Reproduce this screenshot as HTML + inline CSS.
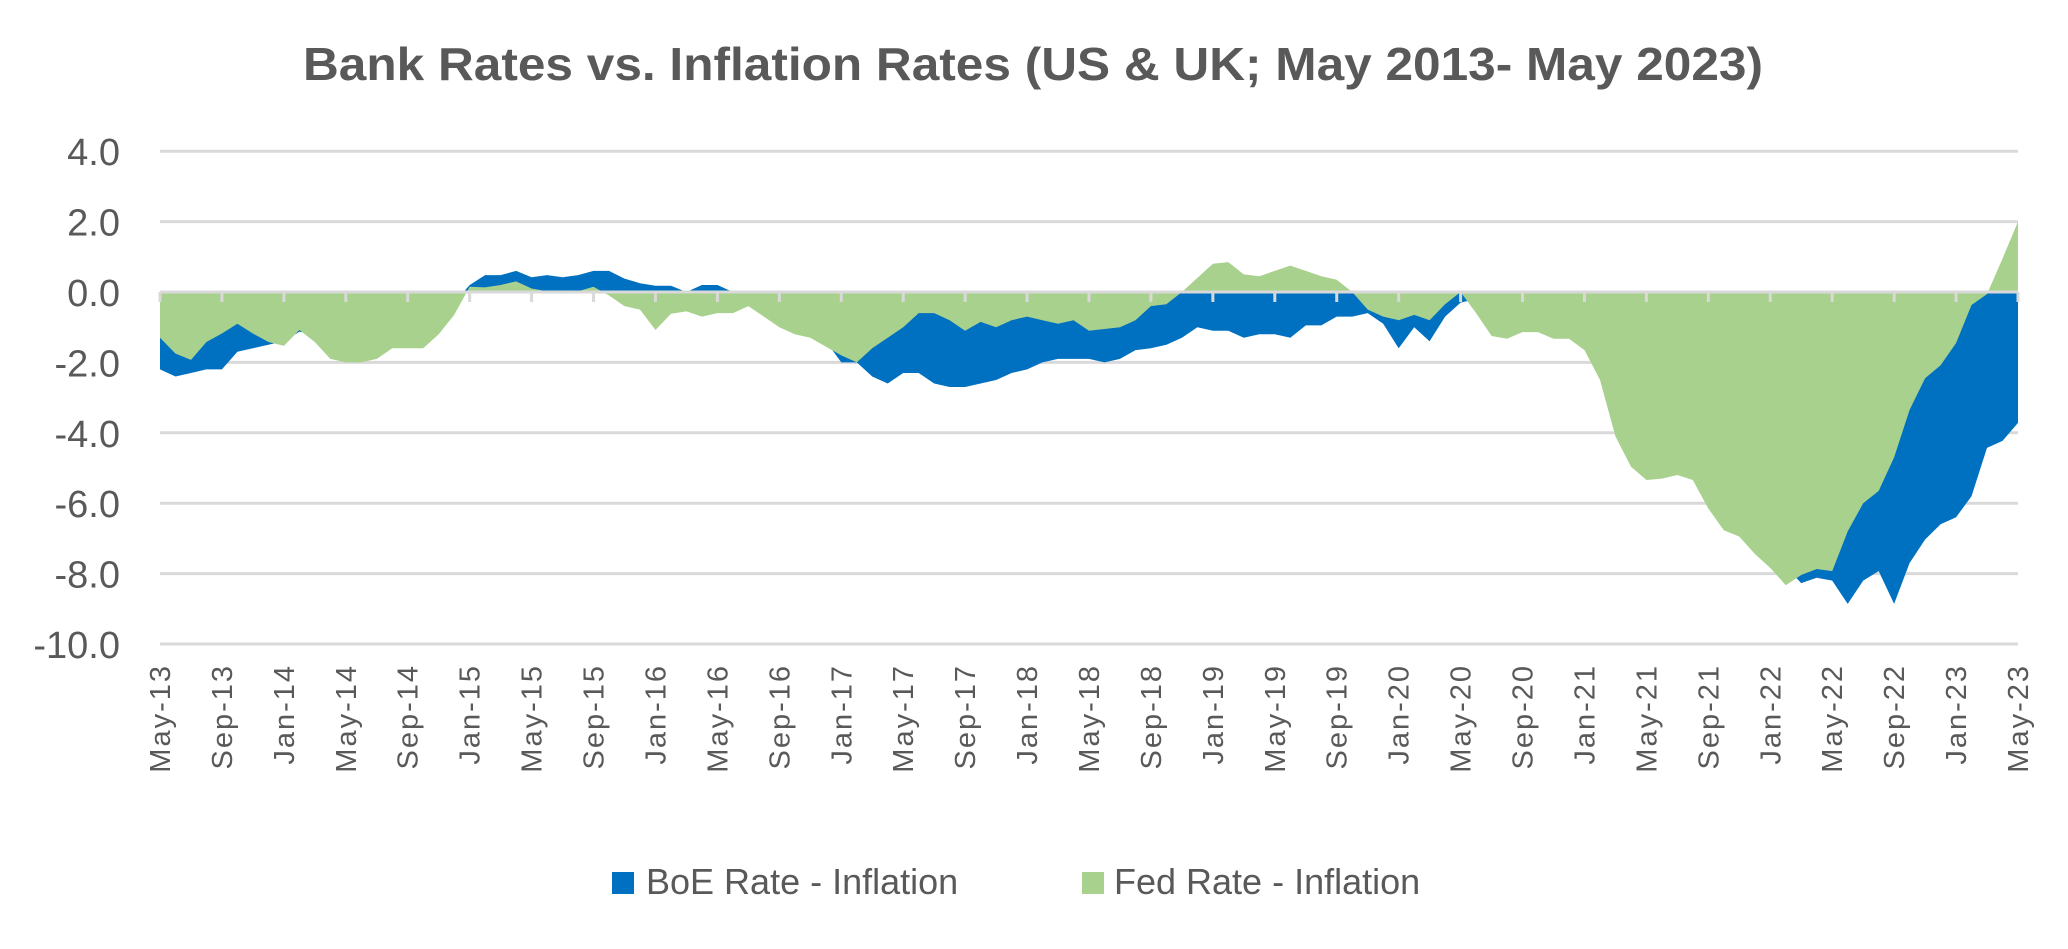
<!DOCTYPE html>
<html><head><meta charset="utf-8"><style>
html,body{margin:0;padding:0;background:#fff;}
svg{display:block;}
</style></head><body>
<svg id="s" width="2068" height="949" xmlns="http://www.w3.org/2000/svg">
<rect width="2068" height="949" fill="#fff"/>
<text x="1033" y="80" text-anchor="middle" font-family="Liberation Sans, sans-serif" font-weight="bold" font-size="46" fill="#595959" textLength="1460" lengthAdjust="spacingAndGlyphs">Bank Rates vs. Inflation Rates (US &amp; UK; May 2013- May 2023)</text>
<g id="grid"></g>
<g id="areas"></g>
<g id="axis"></g>
<g id="labels" font-family="Liberation Sans Narrow, Liberation Sans, sans-serif" fill="#595959"></g>
<rect x="612" y="872" width="22" height="22" fill="#0070C0"/>
<text x="646" y="894" font-family="Liberation Sans Narrow, Liberation Sans, sans-serif" font-size="36" fill="#595959">BoE Rate - Inflation</text>
<rect x="1082" y="872" width="22" height="22" fill="#A9D18E"/>
<text x="1114" y="894" font-family="Liberation Sans Narrow, Liberation Sans, sans-serif" font-size="36" fill="#595959">Fed Rate - Inflation</text>
</svg>
<script>
var G=[-1.3,-1.75,-1.93,-1.42,-1.18,-0.9,-1.18,-1.42,-1.53,-1.08,-1.42,-1.9,-2.0,-2.0,-1.9,-1.6,-1.6,-1.6,-1.2,-0.65,
0.15,0.13,0.2,0.3,0.1,0.02,-0.05,0.02,0.15,-0.1,-0.4,-0.5,-1.08,-0.62,-0.55,-0.7,-0.6,-0.6,-0.4,-0.7,
-1.0,-1.2,-1.3,-1.55,-1.8,-2.0,-1.6,-1.3,-1.0,-0.6,-0.6,-0.8,-1.1,-0.85,-1.0,-0.8,-0.7,-0.8,-0.9,-0.8,
-1.1,-1.05,-1.0,-0.8,-0.4,-0.35,0.0,0.4,0.8,0.85,0.5,0.45,0.6,0.75,0.6,0.45,0.35,0.0,-0.5,-0.7,
-0.8,-0.65,-0.8,-0.35,0.0,-0.6,-1.25,-1.33,-1.14,-1.14,-1.33,-1.33,-1.65,-2.5,-4.1,-4.96,-5.34,-5.3,-5.2,-5.34,
-6.15,-6.77,-6.95,-7.44,-7.84,-8.33,-8.04,-7.87,-7.93,-6.8,-6.0,-5.65,-4.7,-3.35,-2.45,-2.08,-1.45,-0.37,-0.06,0.95,2.0];
var B=[-2.2,-2.4,-2.3,-2.2,-2.2,-1.7,-1.6,-1.5,-1.4,-1.13,-1.2,-1.5,-1.6,-1.6,-1.5,-1.3,-1.2,-1.0,-0.8,-0.3,
0.2,0.48,0.48,0.6,0.42,0.48,0.42,0.48,0.6,0.6,0.38,0.25,0.18,0.18,0.0,0.2,0.2,0.0,-0.3,-0.5,
-0.8,-1.0,-1.1,-1.4,-2.0,-2.0,-2.4,-2.6,-2.3,-2.3,-2.6,-2.7,-2.7,-2.6,-2.5,-2.3,-2.2,-2.0,-1.9,-1.9,
-1.9,-2.0,-1.9,-1.65,-1.6,-1.5,-1.3,-1.0,-1.1,-1.1,-1.3,-1.2,-1.2,-1.3,-0.95,-0.95,-0.7,-0.7,-0.6,-0.9,
-1.6,-1.0,-1.4,-0.7,-0.3,-0.2,-0.5,-0.6,-0.6,-0.6,-0.6,-0.7,-0.8,-1.2,-1.8,-2.5,-3.0,-3.5,-4.0,-4.5,
-5.0,-5.5,-6.0,-6.6,-7.2,-7.8,-8.27,-8.12,-8.2,-8.86,-8.2,-7.93,-8.86,-7.7,-7.03,-6.6,-6.4,-5.8,-4.43,-4.23,-3.72];
var NS="http://www.w3.org/2000/svg";
function X(m){return 160+m*1858/120;}
function Y(v){return 292-35.2*v;}
function el(t,a,p){var e=document.createElementNS(NS,t);for(var k in a)e.setAttribute(k,a[k]);document.getElementById(p).appendChild(e);return e;}
var lab=["4.0","2.0","0.0","-2.0","-4.0","-6.0","-8.0","-10.0"];
for(var i=0;i<8;i++){var v=4-2*i;
 el("line",{x1:160,x2:2018,y1:Y(v),y2:Y(v),stroke:"#d9d9d9","stroke-width":3},"grid");
 var t=el("text",{x:120,y:Y(v)+14,"text-anchor":"end","font-size":38},"labels");t.textContent=lab[i];}
function area(D,c){var d="M"+X(0)+","+Y(0);for(var m=0;m<D.length;m++)d+=" L"+X(m).toFixed(1)+","+Y(D[m]).toFixed(1);d+=" L"+X(120)+","+Y(0)+"Z";el("path",{d:d,fill:c},"areas");}
area(B,"#0070C0");area(G,"#A9D18E");
el("line",{x1:160,x2:2018,y1:Y(0),y2:Y(0),stroke:"#d9d9d9","stroke-width":3},"axis");
var mn=["May","Sep","Jan"];
for(var k=0;k<=30;k++){var m=k*4;var x=X(m);
 el("line",{x1:x,x2:x,y1:Y(0),y2:Y(0)+10,stroke:"#d9d9d9","stroke-width":3},"axis");
 var yr=13+Math.floor((4+m)/12);
 var t=el("text",{transform:"translate("+(x+10)+",664) rotate(-90)","text-anchor":"end","font-size":29,"letter-spacing":"2","font-family":"Liberation Sans, sans-serif"},"labels");
 t.textContent=mn[k%3]+"-"+yr;}
</script>
</body></html>
